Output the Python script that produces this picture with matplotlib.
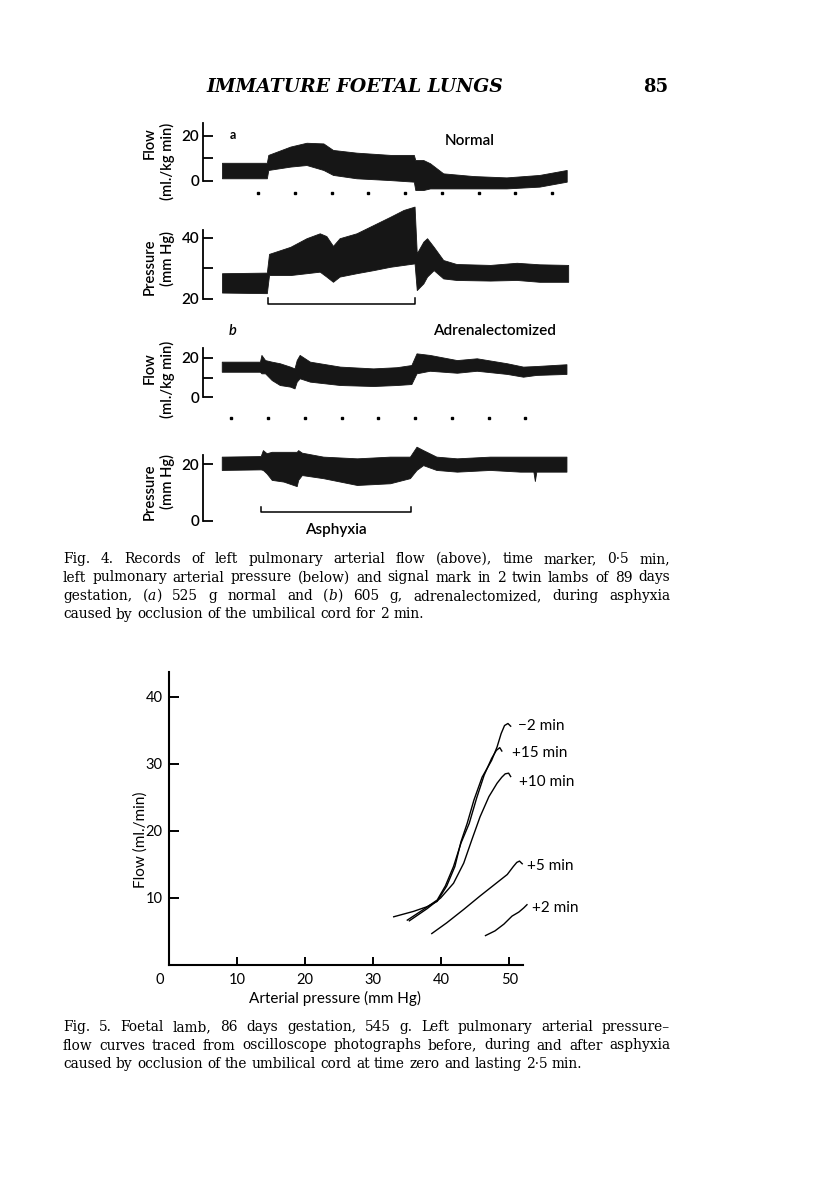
import matplotlib
matplotlib.use('Agg')
import matplotlib.pyplot as plt

W, H = 816, 1184
fig = plt.figure(figsize=(W / 100, H / 100), dpi=100)
SANS = ['Lato', 'DejaVu Sans']
SERIF = ['DejaVu Serif']

# ---------------- Fig. 4 data (time in min from start of asphyxia) ----------------
# (a) normal lamb: flow (ml./kg min) envelope of pulsatile record
fa_t = [-0.63, -0.02, 0.0, 0.30, 0.52, 0.75, 0.88, 1.20, 1.66, 1.98, 2.0, 2.11, 2.20, 2.38, 2.79, 3.24, 3.69, 4.06]
fa_hi = [8.1, 8.1, 11.6, 15.3, 17.0, 16.7, 13.8, 12.6, 11.6, 11.6, 9.3, 9.3, 7.9, 3.4, 2.2, 1.6, 2.7, 4.9]
fa_lo = [1.2, 1.2, 4.9, 6.4, 7.1, 4.9, 2.7, 1.2, 0.4, -0.3, -4.0, -4.0, -3.3, -3.3, -3.3, -3.3, -2.5, -0.3]
# (a) pressure (mm Hg)
pa_t = [-0.63, -0.02, 0.01, 0.30, 0.52, 0.70, 0.79, 0.88, 0.97, 1.20, 1.43, 1.66, 1.84, 1.99,
        2.02, 2.11, 2.16, 2.25, 2.38, 2.56, 3.02, 3.38, 3.69, 4.08]
pa_hi = [28.4, 28.6, 34.7, 37.0, 39.8, 41.4, 40.5, 37.3, 39.8, 41.4, 44.1, 46.8, 49.0, 50.1,
         34.9, 38.7, 39.8, 37.0, 32.7, 31.4, 31.1, 31.8, 31.3, 31.1]
pa_lo = [22.1, 21.9, 27.8, 27.8, 28.4, 28.9, 27.3, 25.6, 27.3, 28.4, 29.4, 30.5, 31.1, 31.6,
         22.9, 25.1, 27.3, 29.4, 26.7, 26.2, 26.0, 26.2, 25.6, 25.6]
marks_a = [-0.14, 0.36, 0.86, 1.36, 1.86, 2.36, 2.86, 3.36, 3.86]
signal_a = [0.0, 2.0]

# (b) adrenalectomized lamb
fb_t = [-0.53, -0.01, 0.01, 0.06, 0.15, 0.26, 0.40, 0.46, 0.49, 0.53, 0.67, 1.08, 1.53, 1.85,
        2.05, 2.12, 2.30, 2.67, 2.94, 3.35, 3.57, 3.75, 4.16]
fb_hi = [18.0, 18.0, 21.4, 18.8, 18.0, 17.2, 15.5, 14.6, 18.8, 21.4, 18.0, 15.5, 14.6, 15.2,
         16.3, 22.2, 21.4, 18.8, 19.7, 17.2, 15.5, 15.8, 16.7]
fb_lo = [12.9, 12.9, 12.1, 12.1, 8.7, 6.2, 5.4, 4.5, 7.9, 9.6, 7.9, 6.2, 5.7, 6.2,
         6.7, 12.1, 13.4, 12.4, 13.4, 11.8, 10.4, 11.3, 11.8]
pb_t = [-0.53, 0.0, 0.03, 0.08, 0.15, 0.31, 0.49, 0.51, 0.56, 0.85, 1.31, 1.76, 2.03, 2.12,
        2.21, 2.39, 2.67, 3.12, 3.53, 3.71, 3.73, 3.75, 4.16]
pb_hi = [22.6, 22.8, 24.9, 23.8, 24.3, 24.3, 24.3, 24.9, 24.0, 22.6, 22.0, 22.6, 22.6, 26.1,
         24.9, 22.6, 22.0, 22.6, 22.6, 22.6, 22.6, 22.6, 22.6]
pb_lo = [17.9, 18.1, 17.9, 16.7, 14.4, 13.8, 12.2, 14.4, 16.1, 15.0, 12.6, 13.2, 15.0, 17.9,
         19.6, 17.9, 17.3, 17.9, 17.3, 17.3, 14.0, 17.3, 17.3]
marks_b = [-0.4, 0.1, 0.6, 1.1, 1.6, 2.1, 2.6, 3.1, 3.6]
signal_b = [0.0, 2.05]

# ---------------- Fig. 5 data: flow (ml./min) vs arterial pressure (mm Hg) ----------------
m2_x = [33.0, 35.9, 37.9, 39.4, 40.8, 42.0, 42.9, 43.8, 44.8, 46.0, 47.4, 48.2, 48.8, 49.3, 49.8, 50.2]
m2_y = [7.2, 8.0, 8.7, 9.5, 11.8, 14.7, 18.4, 21.1, 24.6, 28.0, 30.5, 32.5, 34.5, 35.7, 36.0, 35.6]
p15_x = [35.0, 37.4, 39.4, 40.6, 41.8, 42.9, 44.1, 45.2, 46.3, 47.4, 48.1, 48.6, 48.9]
p15_y = [6.7, 8.3, 9.7, 11.8, 14.7, 18.2, 21.1, 24.9, 28.3, 30.8, 32.0, 32.4, 31.9]
p10_x = [35.3, 37.9, 39.9, 41.8, 43.3, 44.5, 45.7, 47.0, 48.2, 48.9, 49.4, 49.9, 50.2]
p10_y = [6.6, 8.4, 10.0, 12.2, 15.2, 18.7, 22.1, 25.1, 27.1, 28.0, 28.5, 28.6, 28.1]
p5_x = [38.6, 40.8, 43.3, 45.7, 48.2, 49.7, 50.6, 51.1, 51.5, 51.9]
p5_y = [4.7, 6.3, 8.3, 10.3, 12.3, 13.5, 14.7, 15.3, 15.5, 15.1]
p2_x = [46.5, 47.9, 49.2, 50.4, 51.4, 52.1, 52.6]
p2_y = [4.4, 5.1, 6.1, 7.3, 7.9, 8.5, 9.0]
curve_labels = ['\u22122 min', '+15 min', '+10 min', '+5 min', '+2 min']
x_ticks5 = [10, 20, 30, 40, 50]
y_ticks5 = [10, 20, 30, 40]


def fx(x):
    return x / W


def fy(y):
    return 1 - y / H


def panel(x0, x1, t_left, ppm, ytop, ybot, v0_px, ppu):
    ax = fig.add_axes([fx(x0), fy(ybot), (x1 - x0) / W, (ybot - ytop) / H])
    ax.set_xlim(t_left, t_left + (x1 - x0) / ppm)
    ax.set_ylim((v0_px - ybot) / ppu, (v0_px - ytop) / ppu)
    ax.patch.set_alpha(0)
    for s in ['top', 'right', 'bottom']:
        ax.spines[s].set_visible(False)
    ax.spines['left'].set_linewidth(1.3)
    ax.set_xticks([])
    ax.tick_params(axis='y', direction='in', length=7.5, width=1.3, pad=3, labelsize=11)
    return ax


TRACE = '#161616'
PPM = 73.5

# (a) flow
axfa = panel(203.3, 575, (203.3 - 268.3) / PPM, PPM, 118, 200, 181, 2.25)
axfa.fill_between(fa_t, fa_lo, fa_hi, color=TRACE, lw=0.6, ec=TRACE)
axfa.spines['left'].set_bounds(0, 25.8)
axfa.set_yticks([0, 10, 20], ['0', '', '20'])
axfa.plot(marks_a, [-5.2] * len(marks_a), ls='none', marker='s', ms=2.0, color='black')

# (a) pressure
axpa = panel(203.3, 575, (203.3 - 268.3) / PPM, PPM, 200, 312, 299 + 20 * 3.07, 3.07)
axpa.fill_between(pa_t, pa_lo, pa_hi, color=TRACE, lw=0.6, ec=TRACE)
axpa.spines['left'].set_bounds(20, 42.6)
axpa.set_yticks([20, 30, 40], ['20', '', '40'])
axpa.plot([signal_a[0], signal_a[0], signal_a[1], signal_a[1]], [20.2, 18.27, 18.27, 20.2],
          color='black', lw=1.1)

# (b) flow
axfb = panel(203.3, 575, (203.3 - 260.7) / PPM, PPM, 320, 430, 397.3, 1.98)
axfb.fill_between(fb_t, fb_lo, fb_hi, color=TRACE, lw=0.6, ec=TRACE)
axfb.spines['left'].set_bounds(0, 24.7)
axfb.set_yticks([0, 10, 20], ['0', '', '20'])
axfb.plot(marks_b, [-10.6] * len(marks_b), ls='none', marker='s', ms=2.0, color='black')

# (b) pressure
axpb = panel(203.3, 575, (203.3 - 260.7) / PPM, PPM, 430, 540, 520.7, 2.835)
axpb.fill_between(pb_t, pb_lo, pb_hi, color=TRACE, lw=0.6, ec=TRACE)
axpb.spines['left'].set_bounds(0, 23.2)
axpb.set_yticks([0, 20], ['0', '20'])
axpb.plot([signal_b[0], signal_b[0], signal_b[1], signal_b[1]], [4.9, 3.17, 3.17, 4.9],
          color='black', lw=1.1)
axpb.annotate('Asphyxia', xy=(sum(signal_b) / 2, 3.17), xytext=(0, -18), textcoords='offset pixels',
              ha='center', va='center', family=SANS, fontsize=11, fontweight='semibold')

for ax in (axfa, axpa, axfb, axpb):
    for lab in ax.get_yticklabels():
        lab.set_family(SANS)
        lab.set_fontweight('semibold')

# panel labels
lab_kw = dict(family=SANS, fontsize=10.5, fontweight='semibold', rotation=90, ha='center', va='center')
fig.text(fx(150), fy(143), 'Flow', **lab_kw)
fig.text(fx(167), fy(161), '(ml./kg min)', **lab_kw)
fig.text(fx(150), fy(267), 'Pressure', **lab_kw)
fig.text(fx(167), fy(259), '(mm Hg)', **lab_kw)
fig.text(fx(150), fy(368), 'Flow', **lab_kw)
fig.text(fx(167), fy(379), '(ml./kg min)', **lab_kw)
fig.text(fx(150), fy(492), 'Pressure', **lab_kw)
fig.text(fx(167), fy(482), '(mm Hg)', **lab_kw)

fig.text(fx(232.7), fy(135), 'a', family=SANS, fontsize=9, fontweight='bold', ha='center', va='center')
fig.text(fx(470), fy(141), 'Normal', family=SANS, fontsize=11, fontweight='semibold', ha='center', va='center')
fig.text(fx(232.7), fy(331), 'b', family=SANS, fontsize=10.5, style='italic', fontweight='semibold',
         ha='center', va='center')
fig.text(fx(494), fy(331), 'Adrenalectomized', family=SANS, fontsize=11, fontweight='semibold',
         ha='center', va='center')

# ---------------- Fig. 5 ----------------
ax5 = fig.add_axes([fx(169.3), fy(965.1), (522.9 - 169.3) / W, (965.1 - 672.5) / H])
ax5.set_xlim(0, 52)
ax5.set_ylim(0, 43.6)
ax5.patch.set_alpha(0)
for s in ['top', 'right']:
    ax5.spines[s].set_visible(False)
for s in ['left', 'bottom']:
    ax5.spines[s].set_linewidth(1.5)
ax5.set_xticks(x_ticks5, [str(v) for v in x_ticks5])
ax5.set_yticks(y_ticks5, [str(v) for v in y_ticks5])
ax5.tick_params(axis='x', direction='in', length=6, width=1.4, pad=6, labelsize=10.5)
ax5.tick_params(axis='y', direction='in', length=7.5, width=1.4, pad=5, labelsize=10.5)
for lab in ax5.get_xticklabels() + ax5.get_yticklabels():
    lab.set_family(SANS)
ax5.annotate('0', xy=(0, 0), xytext=(-10, -15), textcoords='offset pixels', ha='center', va='center',
             family=SANS, fontsize=10.5)
ax5.set_xlabel('Arterial pressure (mm Hg)', family=SANS, fontsize=11)
ax5.xaxis.set_label_coords((335 - 169.3) / (522.9 - 169.3), -(998 - 965.1) / (965.1 - 672.5))
ax5.xaxis.label.set_va('center')
ax5.set_ylabel('Flow (ml./min)', family=SANS, fontsize=11)
ax5.yaxis.set_label_coords(-(169.3 - 140.5) / (522.9 - 169.3), (965.1 - 840) / (965.1 - 672.5))
ax5.yaxis.label.set_va('center')

curves = [(m2_x, m2_y), (p15_x, p15_y), (p10_x, p10_y), (p5_x, p5_y), (p2_x, p2_y)]
offsets = [(7, 0), (10, -2), (8, -5), (5, -2), (5, -3)]
for (xs, ys), lab, off in zip(curves, curve_labels, offsets):
    ax5.plot(xs, ys, color='black', lw=1.0, clip_on=False)
    ax5.annotate(lab, xy=(xs[-1], ys[-1]), xytext=off, textcoords='offset pixels', ha='left',
                 va='center', family=SANS, fontsize=11, annotation_clip=False)

# ---------------- page text ----------------
fig.text(fx(355), fy(87), 'IMMATURE FOETAL LUNGS', family=SERIF, style='italic', fontweight='bold',
         fontsize=13.5, ha='center', va='center')
fig.text(fx(656), fy(87), '85', family=SERIF, fontweight='bold', fontsize=13, ha='center', va='center')

renderer = fig.canvas.get_renderer()


def caption_line(words, y_px, x0=63, x1=670, size=9.9, justify=True):
    items = []
    total = 0.0
    for w in words:
        segs = w if isinstance(w, list) else [(w, 'normal')]
        objs = []
        ww = 0.0
        for s, st in segs:
            t = fig.text(0, fy(y_px), s, family=SERIF, style=st, fontsize=size, ha='left', va='center')
            wd = t.get_window_extent(renderer).width
            objs.append((t, wd))
            ww += wd
        items.append((objs, ww))
        total += ww
    natural = size * 100 / 72 * 0.32
    if justify and len(words) > 1:
        gap = (x1 - x0 - total) / (len(words) - 1)
    else:
        gap = natural
    x = x0
    for objs, ww in items:
        xx = x
        for t, wd in objs:
            t.set_x(fx(xx))
            xx += wd
        x += ww + gap


cap4 = [
    "Fig. 4. Records of left pulmonary arterial flow (above), time marker, 0\u00b75 min,".split(),
    "left pulmonary arterial pressure (below) and signal mark in 2 twin lambs of 89 days".split(),
    ["gestation,", [("(", 'normal'), ("a", 'italic'), (")", 'normal')], "525", "g", "normal", "and",
     [("(", 'normal'), ("b", 'italic'), (")", 'normal')], "605", "g,", "adrenalectomized,", "during", "asphyxia"],
    "caused by occlusion of the umbilical cord for 2 min.".split(),
]
for i, (words, y) in enumerate(zip(cap4, [559, 577.5, 596, 614.5])):
    caption_line(words, y, justify=(i < 3))

cap5 = [
    "Fig. 5. Foetal lamb, 86 days gestation, 545 g. Left pulmonary arterial pressure\u2013".split(),
    "flow curves traced from oscilloscope photographs before, during and after asphyxia".split(),
    "caused by occlusion of the umbilical cord at time zero and lasting 2\u00b75 min.".split(),
]
for i, (words, y) in enumerate(zip(cap5, [1027, 1045.5, 1064])):
    caption_line(words, y, justify=(i < 2))

fig.savefig('out.png', dpi=100)
